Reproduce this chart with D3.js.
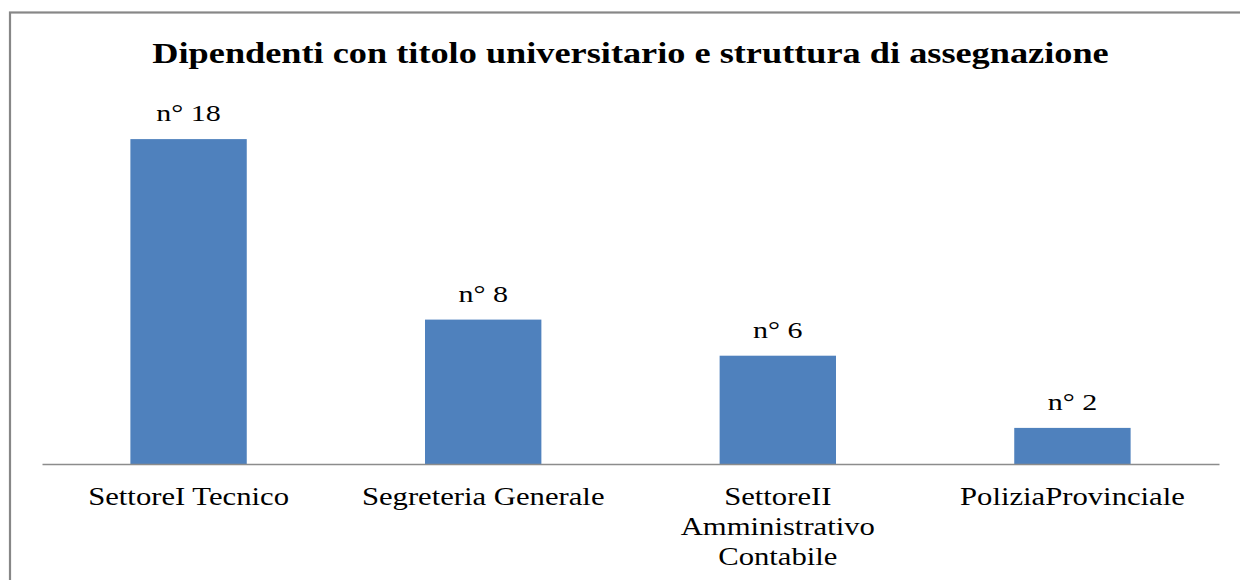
<!DOCTYPE html>
<html>
<head>
<meta charset="utf-8">
<script src="https://cdn.jsdelivr.net/npm/d3@7"></script>
<style>
  html, body { margin: 0; padding: 0; background: #fff; }
  svg { display: block; }
</style>
</head>
<body>
<svg id="chart" width="1240" height="580"></svg>
<script>
const title = "Dipendenti con titolo universitario e struttura di assegnazione";
const categories = ["Settore I Tecnico", "Segreteria Generale", "Settore II Amministrativo Contabile", "Polizia Provinciale"];
const categoryLines = [["SettoreI Tecnico"], ["Segreteria Generale"], ["SettoreII", "Amministrativo", "Contabile"], ["PoliziaProvinciale"]];
const values = [18, 8, 6, 2];
const labelPrefix = "n° ";

const SERIF = "'Liberation Serif', 'Times New Roman', Times, serif";
const plot = { left: 42, right: 1219, top: 103, bottom: 464 };

const svg = d3.select("#chart");

// outer chart border
svg.append("rect")
  .attr("x", 10).attr("y", 12.5)
  .attr("width", 1300).attr("height", 700)
  .attr("fill", "#fff")
  .attr("stroke", "#878787")
  .attr("stroke-width", 2.2);

const x = d3.scaleBand()
  .domain(categories)
  .range([plot.left, plot.right])
  .paddingInner(0.605)
  .paddingOuter(0.3);

const y = d3.scaleLinear()
  .domain([0, 20])
  .range([plot.bottom, plot.top]);

// title
svg.append("text")
  .attr("transform", `translate(${(plot.left + plot.right) / 2},63) scale(1.21,1)`)
  .attr("text-anchor", "middle")
  .style("font-family", SERIF)
  .style("font-size", "30px")
  .style("font-weight", "bold")
  .attr("fill", "#000")
  .text(title);

// bars
svg.selectAll("rect.bar")
  .data(values)
  .join("rect")
  .attr("class", "bar")
  .attr("x", (d, i) => x(categories[i]))
  .attr("y", d => y(d))
  .attr("width", x.bandwidth())
  .attr("height", d => y(0) - y(d))
  .attr("fill", "#4F81BD");

// value labels
svg.selectAll("text.val")
  .data(values)
  .join("text")
  .attr("class", "val")
  .attr("transform", (d, i) => `translate(${x(categories[i]) + x.bandwidth() / 2},${y(d) - 18}) scale(1.25,1)`)
  .attr("text-anchor", "middle")
  .style("font-family", SERIF)
  .style("font-size", "24px")
  .attr("fill", "#000")
  .text(d => labelPrefix + d);

// x axis
const axis = svg.append("g")
  .attr("transform", `translate(0,${plot.bottom})`)
  .call(d3.axisBottom(x).tickSize(0).tickSizeOuter(0).tickFormat(""));

axis.attr("font-family", null);
axis.select(".domain").attr("stroke", "#8c8c8c").attr("stroke-width", 1.6);

axis.selectAll(".tick text").remove();
axis.selectAll(".tick").each(function (d, i) {
  const t = d3.select(this).append("text")
    .attr("transform", "scale(1.18,1)")
    .attr("text-anchor", "middle")
    .style("font-family", SERIF)
    .style("font-size", "26px")
    .attr("fill", "#000");
  categoryLines[i].forEach((line, j) => {
    t.append("tspan")
      .attr("x", 0)
      .attr("y", 41 + j * 30)
      .text(line);
  });
});
</script>
</body>
</html>
